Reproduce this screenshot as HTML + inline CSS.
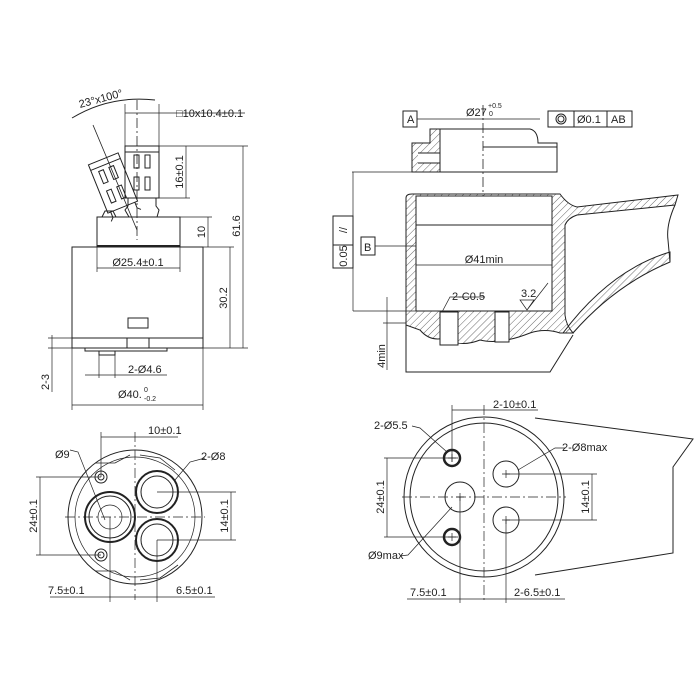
<!DOCTYPE html>
<html><head><meta charset="utf-8"><style>html,body{margin:0;padding:0;background:#fff}svg{display:block}text{font-family:"Liberation Sans",sans-serif;fill:#222}</style></head>
<body>
<svg width="700" height="700" viewBox="0 0 700 700" xmlns="http://www.w3.org/2000/svg">
<defs>
<pattern id="h" width="5" height="5" patternUnits="userSpaceOnUse" patternTransform="rotate(45)"><line x1="0" y1="0" x2="0" y2="5" stroke="#444" stroke-width="0.8"/></pattern>
</defs>
<g fill="none" stroke="#222" stroke-width="1">
<!-- ===== TOP LEFT ===== -->
<rect x="125" y="146" width="34" height="52"/>
<line x1="125" y1="152" x2="159" y2="152"/>
<rect x="134" y="155" width="5" height="13"/><rect x="145" y="155" width="5" height="13"/>
<rect x="134" y="177" width="5" height="13"/><rect x="145" y="177" width="5" height="13"/>
<path d="M128 198 l0 8 l-3 4 l4 7 M156 198 l0 8 l3 4 l-2 7"/>
<g transform="rotate(-22 113 183)">
<rect x="97" y="157" width="32" height="52"/>
<line x1="97" y1="163" x2="129" y2="163"/>
<rect x="104" y="167" width="5" height="13"/><rect x="115" y="167" width="5" height="13"/>
<rect x="104" y="188" width="5" height="13"/><rect x="115" y="188" width="5" height="13"/>
<path d="M100 209 l0 6 l-3 3 M126 209 l0 6 l3 3"/>
</g>
<path d="M102 217 l3 -6 l8 0 l3 6"/>
<rect x="97" y="217" width="83" height="30"/>
<line x1="97" y1="246" x2="180" y2="246" stroke-width="2"/>
<rect x="72" y="247" width="131" height="91"/>
<rect x="128" y="318" width="20" height="10"/>
<rect x="72" y="338" width="131" height="10"/>
<line x1="127" y1="338" x2="127" y2="348"/><line x1="149" y1="338" x2="149" y2="348"/>
<path d="M85 348 l0 3 l82 0 l0 -3 M99 351 l0 4 l16 0 l0 -4"/>
<line x1="137" y1="100" x2="137" y2="240" stroke-dasharray="10 3 2 3" stroke-width="0.8"/>
<line x1="93" y1="125" x2="137" y2="230" stroke-width="0.8"/>
<path d="M72 118 Q110 95 155 100" />
<line x1="125" y1="104" x2="125" y2="146" stroke-width="0.7"/><line x1="159" y1="104" x2="159" y2="146" stroke-width="0.7"/>
<line x1="125" y1="113" x2="245" y2="113" stroke-width="0.7"/>
<line x1="159" y1="146" x2="248" y2="146" stroke-width="0.7"/>
<line x1="159" y1="198" x2="190" y2="198" stroke-width="0.7"/>
<line x1="186" y1="146" x2="186" y2="198" stroke-width="0.7"/>
<line x1="180" y1="217" x2="212" y2="217" stroke-width="0.7"/>
<line x1="208" y1="217" x2="208" y2="247" stroke-width="0.7"/>
<line x1="203" y1="247" x2="234" y2="247" stroke-width="0.7"/>
<line x1="230" y1="247" x2="230" y2="348" stroke-width="0.7"/>
<line x1="203" y1="348" x2="248" y2="348" stroke-width="0.7"/>
<line x1="243" y1="146" x2="243" y2="348" stroke-width="0.7"/>
<line x1="97" y1="247" x2="97" y2="272" stroke-width="0.7"/><line x1="180" y1="247" x2="180" y2="272" stroke-width="0.7"/>
<line x1="97" y1="268" x2="180" y2="268" stroke-width="0.7"/>
<line x1="99" y1="355" x2="99" y2="378" stroke-width="0.7"/><line x1="115" y1="355" x2="115" y2="378" stroke-width="0.7"/>
<line x1="85" y1="375" x2="167" y2="375" stroke-width="0.7"/>
<line x1="72" y1="348" x2="72" y2="410" stroke-width="0.7"/><line x1="203" y1="348" x2="203" y2="410" stroke-width="0.7"/>
<line x1="72" y1="405" x2="203" y2="405" stroke-width="0.7"/>
<line x1="48" y1="338" x2="72" y2="338" stroke-width="0.7"/><line x1="48" y1="348" x2="85" y2="348" stroke-width="0.7"/>
<line x1="52" y1="335" x2="52" y2="392" stroke-width="0.7"/>

<!-- ===== TOP RIGHT ===== -->
<rect x="403" y="111" width="14" height="16"/>
<line x1="417" y1="119" x2="540" y2="119" stroke-width="0.7"/>
<rect x="548" y="111" width="84" height="16"/>
<line x1="574" y1="111" x2="574" y2="127"/><line x1="607" y1="111" x2="607" y2="127"/>
<circle cx="561" cy="119" r="5"/><circle cx="561" cy="119" r="3"/>
<path d="M430 129 L440 129 L440 143 L440 172 L412 172 L412 143 L430 143 Z" fill="url(#h)"/>
<path d="M418 153 L440 153 L440 163 L418 163" fill="#fff"/>
<path d="M440 129 L530 129 Q538 131 538 143 L557 143 L557 172 L440 172"/>
<line x1="483" y1="147" x2="557" y2="147"/>
<line x1="483" y1="105" x2="483" y2="210" stroke-dasharray="10 3 2 3" stroke-width="0.8"/>
<!-- cup -->
<path d="M406 198 Q406 194 412 194 L560 194 Q568 205 577 207 L678 195 L675 205 L577 215 Q568 218 565 225 L565 315 Q566 325 573 333 L560 333 Q545 328 530 333 Q500 345 480 340 Q460 348 445 338 Q430 342 420 330 L406 325 Z" fill="url(#h)"/>
<rect x="416" y="196" width="136" height="115" fill="#fff"/>
<line x1="416" y1="225" x2="552" y2="225"/>
<rect x="440" y="312" width="18" height="33" fill="#fff"/>
<rect x="495" y="312" width="14" height="30" fill="#fff"/>
<path d="M670 252 Q610 270 563 333 L573 333 Q615 285 670 262 Z" fill="url(#h)"/>
<path d="M675 205 Q666 225 668 240 L670 262"/>
<path d="M406 325 L406 372 L550 372 L573 335"/>
<line x1="416" y1="265" x2="552" y2="265" stroke-width="0.7"/>
<rect x="361" y="237" width="14" height="18"/>
<line x1="375" y1="246" x2="416" y2="246" stroke-width="0.7"/>
<rect x="333" y="216" width="20" height="52"/>
<line x1="333" y1="245" x2="353" y2="245"/>
<line x1="352" y1="172" x2="412" y2="172" stroke-width="0.7"/>
<line x1="353" y1="172" x2="353" y2="311" stroke-width="0.7"/>
<line x1="353" y1="311" x2="416" y2="311" stroke-width="0.7"/>
<line x1="383" y1="323" x2="406" y2="323" stroke-width="0.7"/>
<line x1="387" y1="297" x2="387" y2="370" stroke-width="0.7"/>
<path d="M442 312 L450 297 L485 297" stroke-width="0.7"/>
<path d="M527 310 L520 300 L534 300 Z M527 310 L548 283" stroke-width="0.7"/>

<!-- ===== BOTTOM LEFT ===== -->
<circle cx="135" cy="517" r="67"/>
<circle cx="135" cy="517" r="60" stroke-width="0.7"/>
<circle cx="110" cy="517" r="25" stroke-width="2"/><circle cx="110" cy="517" r="21"/>
<circle cx="110" cy="517" r="12" stroke-width="0.7"/>
<circle cx="157" cy="492" r="21" stroke-width="2"/><circle cx="157" cy="492" r="16"/>
<circle cx="157" cy="540" r="21" stroke-width="2"/><circle cx="157" cy="540" r="16"/>
<circle cx="101" cy="477" r="6"/><circle cx="101" cy="477" r="3"/>
<circle cx="101" cy="555" r="6"/><circle cx="101" cy="555" r="3"/>
<path d="M95 463 L115 463 L130 455 M95 571 L115 571 L130 580 M140 455 L160 458 L175 470 M140 580 L160 578 L178 565" stroke-width="0.8"/>
<line x1="65" y1="517" x2="205" y2="517" stroke-dasharray="10 3 2 3" stroke-width="0.7"/>
<line x1="135" y1="432" x2="135" y2="600" stroke-dasharray="10 3 2 3" stroke-width="0.7"/>
<line x1="101" y1="432" x2="101" y2="477" stroke-width="0.7"/>
<line x1="101" y1="437" x2="178" y2="437" stroke-width="0.7"/>
<line x1="36" y1="477" x2="101" y2="477" stroke-width="0.7"/><line x1="36" y1="555" x2="101" y2="555" stroke-width="0.7"/>
<line x1="40" y1="477" x2="40" y2="555" stroke-width="0.7"/>
<line x1="157" y1="492" x2="236" y2="492" stroke-width="0.7"/><line x1="157" y1="540" x2="236" y2="540" stroke-width="0.7"/>
<line x1="231" y1="492" x2="231" y2="540" stroke-width="0.7"/>
<line x1="110" y1="517" x2="110" y2="602" stroke-width="0.7"/><line x1="157" y1="540" x2="157" y2="602" stroke-width="0.7"/>
<line x1="50" y1="597" x2="215" y2="597" stroke-width="0.7"/>
<path d="M70 450 L78 452 L105 520 M205 458 L190 462 L175 480" stroke-width="0.7"/>

<!-- ===== BOTTOM RIGHT ===== -->
<path d="M535 418 L693 439 L673 467 L673 553 L535 575" />
<circle cx="484" cy="497" r="80" fill="#fff"/>
<circle cx="484" cy="497" r="74"/>
<circle cx="452" cy="458" r="8" stroke-width="2.5"/>
<circle cx="452" cy="537" r="8" stroke-width="2.5"/>
<circle cx="460" cy="497" r="15"/>
<circle cx="506" cy="474" r="13"/><circle cx="506" cy="520" r="13"/>
<line x1="402" y1="497" x2="566" y2="497" stroke-dasharray="10 3 2 3" stroke-width="0.7"/>
<line x1="484" y1="405" x2="484" y2="603" stroke-dasharray="10 3 2 3" stroke-width="0.7"/>
<line x1="452" y1="405" x2="452" y2="462" stroke-width="0.7"/>
<line x1="452" y1="410" x2="538" y2="410" stroke-width="0.7"/>
<line x1="384" y1="458" x2="458" y2="458" stroke-width="0.7"/><line x1="384" y1="537" x2="458" y2="537" stroke-width="0.7"/>
<line x1="387" y1="458" x2="387" y2="537" stroke-width="0.7"/>
<line x1="506" y1="474" x2="597" y2="474" stroke-width="0.7"/><line x1="506" y1="520" x2="597" y2="520" stroke-width="0.7"/>
<line x1="592" y1="474" x2="592" y2="520" stroke-width="0.7"/>
<line x1="460" y1="497" x2="460" y2="603" stroke-width="0.7"/><line x1="506" y1="520" x2="506" y2="603" stroke-width="0.7"/>
<line x1="407" y1="599" x2="565" y2="599" stroke-width="0.7"/>
<path d="M412 426 L420 428 L447 452 M565 448 L555 448 L518 470 M400 556 L408 555 L452 507" stroke-width="0.7"/>
</g>
<g stroke="#222" stroke-width="0.7">
<path d="M448 458 h8 M452 454 v8 M448 537 h8 M452 533 v8 M456 497 h8 M460 493 v8 M502 474 h8 M506 470 v8 M502 520 h8 M506 516 v8"/>
</g>
<g font-size="11">
<text x="80" y="108" transform="rotate(-15 80 108)">23°x100°</text>
<text x="176" y="117">□10x10.4±0.1</text>
<text transform="translate(183 172) rotate(-90)" text-anchor="middle">16±0.1</text>
<text transform="translate(205 232) rotate(-90)" text-anchor="middle">10</text>
<text transform="translate(227 298) rotate(-90)" text-anchor="middle">30.2</text>
<text transform="translate(240 226) rotate(-90)" text-anchor="middle">61.6</text>
<text x="138" y="266" text-anchor="middle">Ø25.4±0.1</text>
<text x="128" y="373">2-Ø4.6</text>
<text x="118" y="398">Ø40.</text><text x="144" y="392" font-size="7">0</text><text x="144" y="401" font-size="7">-0.2</text>
<text transform="translate(49 382) rotate(-90)" text-anchor="middle">2-3</text>

<text x="407" y="123">A</text>
<text x="466" y="116">Ø27</text><text x="488" y="108" font-size="7">+0.5</text><text x="489" y="116" font-size="7">0</text>
<text x="577" y="123">Ø0.1</text><text x="611" y="123">AB</text>
<text x="364" y="251">B</text>
<text transform="translate(347 230) rotate(-90)" text-anchor="middle">//</text>
<text transform="translate(347 256) rotate(-90)" text-anchor="middle">0.05</text>
<text x="484" y="263" text-anchor="middle">Ø41min</text>
<text x="452" y="300">2-C0.5</text>
<text x="521" y="297">3.2</text>
<text transform="translate(385 356) rotate(-90)" text-anchor="middle">4min</text>

<text x="148" y="434">10±0.1</text>
<text x="55" y="458">Ø9</text>
<text x="201" y="460">2-Ø8</text>
<text transform="translate(37 516) rotate(-90)" text-anchor="middle">24±0.1</text>
<text transform="translate(228 516) rotate(-90)" text-anchor="middle">14±0.1</text>
<text x="48" y="594">7.5±0.1</text>
<text x="176" y="594">6.5±0.1</text>

<text x="493" y="408">2-10±0.1</text>
<text x="374" y="429">2-Ø5.5</text>
<text x="562" y="451">2-Ø8max</text>
<text transform="translate(384 497) rotate(-90)" text-anchor="middle">24±0.1</text>
<text transform="translate(589 497) rotate(-90)" text-anchor="middle">14±0.1</text>
<text x="368" y="559">Ø9max</text>
<text x="410" y="596">7.5±0.1</text>
<text x="514" y="596">2-6.5±0.1</text>
</g>
</svg>
</body></html>
